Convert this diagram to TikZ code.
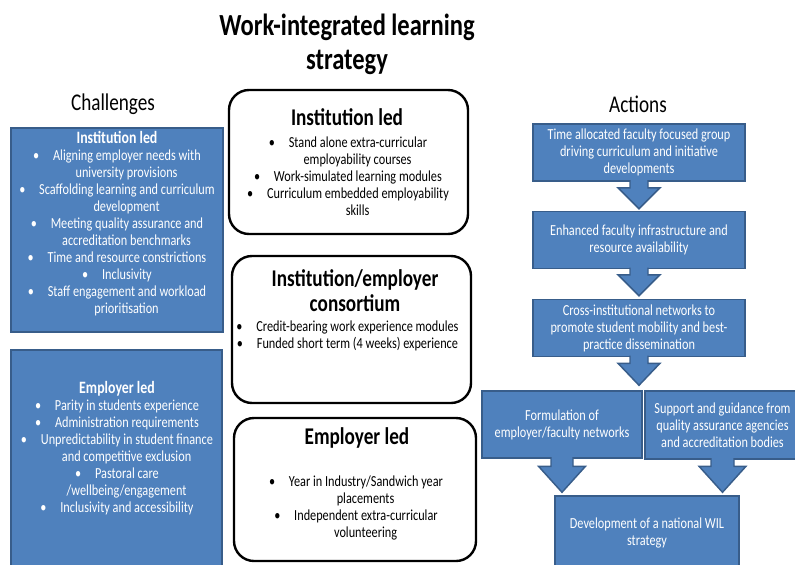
\documentclass[tikz,border=0pt]{standalone}
\usepackage{fontspec}
\setmainfont{Carlito}[FakeStretch=0.8]
\usetikzlibrary{calc}

\definecolor{wilblue}{HTML}{4F81BD}
\definecolor{wiledge}{HTML}{385D8A}

% bullet and hanging indent for wrapped list lines
\newcommand{\wb}{\textbullet\hspace{0.9em}}
\newcommand{\wh}{\hspace*{1.25em}}

\tikzset{
  chbox/.style={rectangle, draw=wiledge, fill=wilblue, line width=1.1pt},
  apbox/.style={rectangle, rounded corners=15pt, draw=black, line width=1.8pt, fill=white},
  actbox/.style={chbox, text=white, align=center, inner sep=0pt,
    font=\fontsize{11.5}{12.75}\selectfont},
  bluetext/.style={text=white, align=center, inner sep=0pt,
    font=\fontsize{11.5}{12.75}\selectfont},
  listtext/.style={text=black, align=center, inner sep=0pt,
    font=\fontsize{11.5}{12.75}\selectfont},
  aphead/.style={align=center, inner sep=0pt,
    font=\fontsize{18}{19}\selectfont\bfseries},
  colhead/.style={inner sep=0pt, font=\fontsize{18}{20}\selectfont},
  callarrow/.style={fill=wilblue, draw=wiledge, line width=1.1pt, line join=miter}
}

\begin{document}
\begin{tikzpicture}[x=0.75pt, y=-0.75pt]
  \useasboundingbox (0,0) rectangle (795,564);

  \node[align=center, inner sep=0pt, font=\fontsize{23}{25.5}\selectfont\bfseries]
    (title) at (347,44) {Work-integrated learning\\strategy};
  \node[colhead] (chall) at (113,104) {Challenges};
  \node[colhead] (acts) at (638,104) {Actions};

  % challenges
  \node[chbox, minimum width=159pt, minimum height=153pt] (chInst) at (117,230) {};
  \node[bluetext] (chInstText) at (117,224) {%
    {\bfseries\fontsize{13}{13}\selectfont Institution led}\\
    \wb Aligning employer needs with\\
    \wh university provisions\\
    \wb Scaffolding learning and curriculum\\
    \wh development\\
    \wb Meeting quality assurance and\\
    \wh accreditation benchmarks\\
    \wb Time and resource constrictions\\
    \wb Inclusivity\\
    \wb Staff engagement and workload\\
    \wh prioritisation};

  \node[chbox, minimum width=158.25pt, minimum height=162pt] (chEmp) at (116.5,458) {};
  \node[bluetext] (chEmpText) at (117,448.5) {%
    {\bfseries\fontsize{13}{13}\selectfont Employer led}\\
    \wb Parity in students experience\\
    \wb Administration requirements\\
    \wb Unpredictability in student finance\\
    \wh and competitive exclusion\\
    \wb Pastoral care\\
    \wh /wellbeing/engagement\\
    \wb Inclusivity and accessibility};

  % approaches
  \node[apbox, minimum width=179.25pt, minimum height=108pt] (apInst) at (348.5,162) {};
  \node[aphead] (apInstHead) at (347,117) {Institution led};
  \node[listtext] (apInstText) at (348,176) {%
    \wb Stand alone extra-curricular\\
    \wh employability courses\\
    \wb Work-simulated learning modules\\
    \wb Curriculum embedded employability\\
    \wh skills};

  \node[apbox, minimum width=179.25pt, minimum height=110.25pt] (apCons) at (351.5,329.5) {};
  \node[aphead] (apConsHead) at (355,290.5) {Institution/employer\\consortium};
  \node[listtext] (apConsText) at (347.5,336) {%
    \wb Credit-bearing work experience modules\\
    \wb Funded short term (4 weeks) experience};

  \node[apbox, minimum width=181.5pt, minimum height=107.25pt] (apEmp) at (355,489.5) {};
  \node[aphead] (apEmpHead) at (357,438) {Employer led};
  \node[listtext] (apEmpText) at (356,508) {%
    \wb Year in Industry/Sandwich year\\
    \wh placements\\
    \wb Independent extra-curricular\\
    \wh volunteering};

  % actions
  \node[actbox, minimum width=159pt, minimum height=42.75pt] (actA) at (639,152.5)
    {Time allocated faculty focused group\\driving curriculum and initiative\\developments};
  \node[actbox, minimum width=159pt, minimum height=42.75pt] (actB) at (639,240)
    {Enhanced faculty infrastructure and\\resource availability};
  \node[actbox, minimum width=159pt, minimum height=42.75pt] (actC) at (639,328)
    {Cross-institutional networks to\\promote student mobility and best-\\practice dissemination};
  \node[actbox, minimum width=120pt, minimum height=50.25pt] (actD) at (562,424.5)
    {Formulation of\\employer/faculty networks};
  \node[actbox, minimum width=116.25pt, minimum height=51pt] (actE) at (722.5,425)
    {Support and guidance from\\quality assurance agencies\\and accreditation bodies};
  \node[actbox, minimum width=138pt, minimum height=55.5pt] (actF) at (647,533)
    {Development of a national WIL\\strategy};

  % down arrows hanging off the action boxes
  \foreach \from/\to/\sw/\hw/\hl/\gap in {actA/actB/9/21/21/2, actB/actC/9/21/21/3,
      actC/actD/9/21/22/5, actD/actF/11/23.5/26/3, actE/actF/11.5/23.5/26/3}
    \filldraw[callarrow] ($(\from.south)+(-\sw,-1.5)$)
      |- ($(\from.south |- \to.north)+(-\hw,-\gap-\hl)$)
      -- ($(\from.south |- \to.north)+(0,-\gap)$)
      -- ($(\from.south |- \to.north)+(\hw,-\gap-\hl)$)
      -| ($(\from.south)+(\sw,-1.5)$);
\end{tikzpicture}
\end{document}
